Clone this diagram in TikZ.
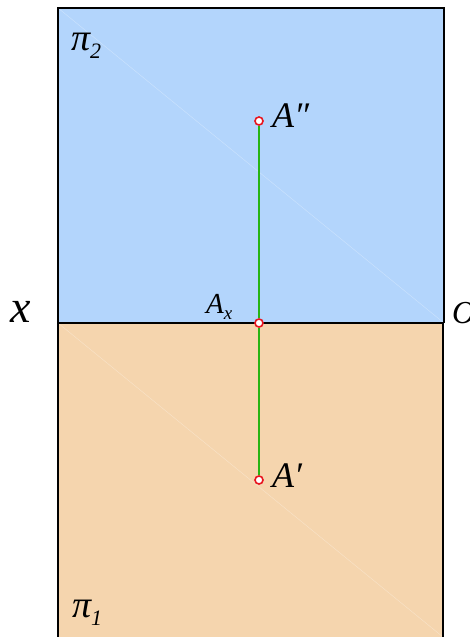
\documentclass[tikz,border=0pt]{standalone}
\usepackage{fontspec}
\setmainfont{Liberation Serif}
\usetikzlibrary{positioning}
\definecolor{planeblue}{RGB}{179,213,252}
\definecolor{planeorange}{RGB}{245,213,174}
\definecolor{projgreen}{RGB}{40,180,20}
\definecolor{ptred}{RGB}{232,20,30}
\newcommand{\sub}[2][20]{\raisebox{-0.22em}{\fontsize{#1}{#1}\selectfont #2}}

\begin{document}
\begin{tikzpicture}[x=1pt, y=-1pt,
    pt/.style={circle, draw=ptred, fill=white, line width=1.6pt, inner sep=0pt, minimum size=8pt},
    biglbl/.style={inner sep=0pt, anchor=base west, font=\fontsize{36}{36}\selectfont\itshape},
    midlbl/.style={inner sep=0pt, anchor=base west, font=\fontsize{29}{29}\selectfont\itshape},
    plnlbl/.style={inner sep=0pt, anchor=base west, font=\fontsize{38}{38}\selectfont\itshape}]
    \useasboundingbox (0,0) rectangle (470,637);

    % Planes pi2 and pi1
    \fill[planeblue] (58,8) rectangle (444,323);
    \fill[planeorange] (58,323) rectangle (443,645);
    \draw[white, opacity=0.3, line width=0.5pt] (58,8) -- (444,323);
    \draw[white, opacity=0.3, line width=0.5pt] (58,323) -- (443,637);

    % Frame and axis x
    \draw[line width=1.5pt] (58,645) -- (58,8) -- (444,8) -- (444,323);
    \draw[line width=1.5pt] (443,323) -- (443,645);
    \draw[line width=1.8pt] (58,323) -- (444,323);

    % Points
    \node[pt] (A2) at (259,121) {};
    \node[pt] (Ax) at (259,323) {};
    \node[pt] (A1) at (259,480) {};
    \draw[projgreen, line width=1.3pt] (A2) -- (Ax) -- (A1);

    % Labels
    \node[biglbl] (A2lab) at (272,127) {A″};
    \node[biglbl] (A1lab) at (272,487) {A′};
    \node[midlbl] (Axlab) at (206,313) {A\sub[19]{x}};
    \node[font=\fontsize{46}{46}\selectfont\itshape, inner sep=0pt, anchor=base west] (xlab) at (10,322) {x};
    \node[font=\fontsize{32}{32}\selectfont\itshape, inner sep=0pt, anchor=base west] (olab) at (452,323) {O};
    \node[plnlbl] (pi2) at (71,50) {π\sub[22]{2}};
    \node[plnlbl] (pi1) at (72,617) {π\sub[22]{1}};
\end{tikzpicture}
\end{document}
